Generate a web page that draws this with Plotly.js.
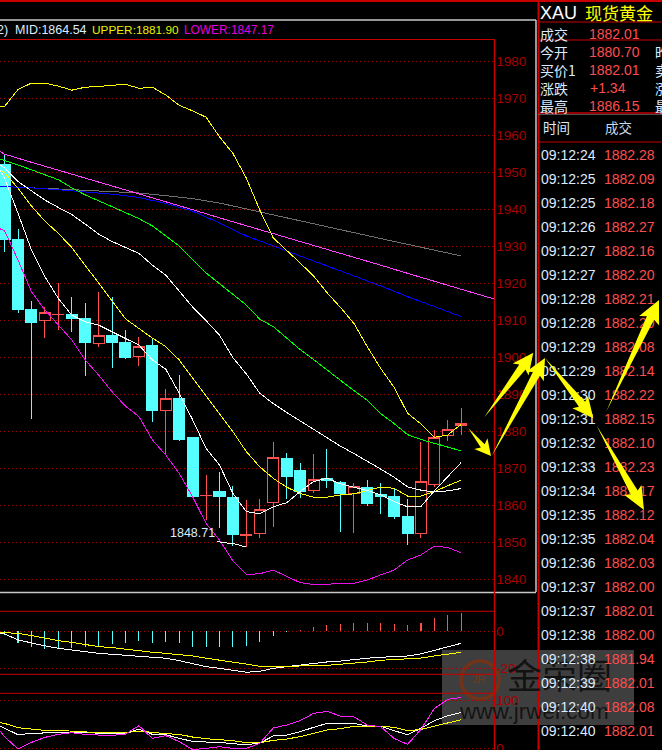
<!DOCTYPE html>
<html><head><meta charset="utf-8">
<script src="https://cdn.plot.ly/plotly-3.0.1.min.js"></script>
<style>html,body{margin:0;padding:0;background:#000;overflow:hidden}
#chart .scatterlayer path.js-line,#chart .boxlayer path,#chart .barlayer path{shape-rendering:crispEdges}</style>
</head><body><div id="chart" style="width:662px;height:750px"></div>
<script>
const opens =[1952.2,1931.9,1912.8,1909.9,1911.6,1911.7,1910.6,1903.7,1906.0,1904.1,1900.2,1903.1,1885.6,1889.0,1878.2,1862.6,1863.6,1862.0,1851.8,1852.3,1860.7,1872.7,1869.3,1864.0,1867.2,1866.3,1863.3,1864.9,1862.8,1862.5,1857.1,1852.3,1865.6,1878.9,1881.5];
const highs =[1954.7,1934.6,1915.2,1913.5,1920.2,1916.2,1914.6,1917.6,1916.2,1907.3,1905.5,1905.0,1891.4,1895.1,1878.2,1868.1,1868.9,1865.1,1861.4,1861.6,1877.0,1874.1,1871.4,1873.9,1875.2,1866.6,1865.9,1866.8,1866.0,1864.3,1861.7,1877.0,1880.4,1883.1,1886.3];
const lows  =[1928.5,1912.0,1883.4,1905.3,1907.4,1906.8,1895.0,1902.9,1897.2,1899.6,1897.7,1882.6,1873.6,1877.5,1862.3,1856.1,1854.0,1849.1,1848.71,1851.3,1854.2,1861.7,1862.1,1863.4,1864.7,1852.8,1852.6,1859.8,1857.7,1856.3,1849.4,1851.3,1865.0,1877.4,1879.0];
const closes=[1931.9,1912.8,1909.5,1912.2,1911.7,1910.6,1903.9,1905.9,1903.9,1899.9,1903.0,1885.5,1888.9,1877.9,1862.5,1862.7,1862.3,1852.0,1852.2,1858.9,1873.0,1867.7,1863.8,1867.0,1866.8,1863.3,1865.0,1860.6,1862.5,1857.1,1852.3,1866.5,1878.4,1880.5,1882.2];

// index -1 .. 34
const lineIdx=[-1,0,1,2,3,4,5,6,7,8,9,10,11,12,13,14,15,16,17,18,19,20,21,22,23,24,25,26,27,28,29,30,31,32,33,34];
const bollUpper=[1967.5,1967.8,1972.4,1974.1,1974.1,1973.3,1972.2,1973.0,1973.2,1973.4,1973.8,1972.7,1973.0,1970.9,1968.1,1966.6,1964.9,1959.6,1955.1,1948.4,1939.8,1932.3,1929.0,1925.5,1922.0,1917.5,1913.5,1909.2,1902.9,1897.0,1891.9,1884.9,1882.0,1878.4,1879.0,1881.90];
const bollMid=[1953.3,1951.2,1947.5,1944.9,1942.5,1940.5,1938.6,1936.0,1933.3,1931.3,1929.7,1928.1,1924.9,1922.2,1917.9,1913.6,1909.9,1906.0,1899.9,1895.5,1890.3,1887.5,1885.1,1882.8,1880.6,1878.1,1876.0,1874.0,1872.0,1869.8,1867.6,1865.0,1864.1,1863.6,1863.9,1864.54];
const bollLower=[1935.8,1934.2,1926.3,1917.7,1912.8,1908.7,1904.7,1899.3,1895.2,1890.7,1886.8,1884.0,1877.7,1873.6,1868.6,1862.3,1855.1,1850.6,1845.0,1841.3,1841.5,1842.5,1840.7,1839.1,1838.6,1838.6,1838.8,1838.9,1839.8,1841.2,1842.5,1845.2,1846.6,1849.0,1848.6,1847.17];
const maFast=[1955.0,1948.4,1938.9,1929.0,1921.8,1915.9,1911.4,1909.6,1908.7,1906.9,1905.1,1903.3,1899.3,1896.8,1890.3,1883.1,1875.4,1870.9,1863.2,1858.3,1857.7,1859.6,1860.7,1863.7,1866.4,1867.3,1865.8,1865.0,1864.0,1862.8,1861.0,1859.6,1859.7,1863.9,1867.7,1871.6];
const maMid=[1952.0,1949.9,1945.7,1940.9,1936.8,1933.5,1929.7,1924.9,1920.1,1915.5,1910.4,1907.8,1905.2,1902.9,1899.3,1894.4,1889.5,1884.7,1879.9,1874.5,1870.4,1867.3,1864.9,1863.2,1862.2,1862.2,1862.8,1863.1,1863.9,1864.9,1864.6,1862.5,1862.5,1863.7,1865.3,1866.8];
const maGreen=[1954.1,1953.2,1952.0,1950.7,1949.3,1948.0,1945.8,1943.9,1942.3,1940.8,1939.1,1937.5,1935.5,1932.8,1930.1,1926.4,1922.8,1919.9,1917.0,1914.1,1910.3,1908.3,1905.2,1902.1,1899.4,1896.6,1893.7,1891.0,1888.4,1884.8,1882.1,1879.1,1877.8,1876.7,1875.6,1874.7];

// long averages, read every second bar
const longIdx=[-1,0,2,4,6,8,10,12,14,16,18,20,22,24,26,28,30,32,34];
const maBlue=[1946.3,1946.2,1945.8,1945.3,1944.7,1944.1,1943.2,1941.6,1939.5,1936.3,1932.8,1930.1,1927.4,1924.7,1922.1,1919.3,1916.4,1913.7,1911.0];
const maGrey=[1946.3,1946.2,1945.8,1945.5,1945.1,1944.8,1944.4,1943.7,1942.9,1941.7,1940.2,1938.5,1936.9,1935.4,1933.7,1932.1,1930.5,1928.9,1927.4];
const pinkIdx=[-1,0,2,4,6,8,10,12,14,16,18,20,22,24,26,28,30,32,34,36.5];
const maPink=[1957.0,1954.9,1952.7,1950.6,1948.5,1946.3,1944.1,1942.0,1939.9,1937.7,1935.6,1933.5,1931.3,1929.2,1927.0,1924.9,1922.7,1920.5,1918.4,1915.7];

const barIdx=[0,1,2,3,4,5,6,7,8,9,10,11,12,13,14,15,16,17,18,19,20,21,22,23,24,25,26,27,28,29,30,31,32,33,34];
const macdHist=[-2.1,-6.1,-8.2,-9.4,-9.6,-8.9,-8.6,-7.7,-6.8,-6.1,-5.2,-6.1,-5.5,-6.1,-8.2,-8.6,-8.2,-8.2,-7.7,-5.7,-2.3,-0.4,0.5,2.3,3.4,3.9,4.5,4.5,4.5,3.9,3.2,4.5,7.1,8.8,9.8];
const macdDif=[-0.5,-1.4,-4.6,-6.4,-7.8,-9.1,-10.0,-11.1,-11.8,-12.3,-12.8,-13.0,-13.9,-14.4,-15.7,-17.5,-18.9,-19.8,-20.9,-21.9,-21.4,-19.8,-18.9,-18.0,-17.1,-16.4,-15.9,-15.0,-14.4,-13.9,-13.4,-13.2,-12.1,-10.3,-8.2,-6.4];
const macdDea=[-0.4,-0.7,-1.1,-2.3,-3.7,-5.0,-5.9,-7.0,-8.2,-8.7,-9.6,-10.3,-11.2,-11.8,-12.3,-13.2,-14.4,-15.3,-16.2,-17.5,-18.7,-19.1,-19.1,-18.5,-18.5,-18.2,-17.6,-17.1,-16.4,-15.5,-15.0,-14.6,-14.3,-13.2,-12.3,-11.2];

const kdjK=[55.8,42.0,28.9,31.7,33.1,33.7,34.4,33.7,31.7,30.3,31.7,40.6,29.6,28.9,21.3,15.2,13.8,13.1,10.3,8.3,11.7,26.2,28.2,35.1,44.1,52.3,52.3,52.3,46.8,46.8,37.2,28.9,42.0,57.9,68.2,75.1];
const kdjD=[57.0,52.3,43.4,39.9,37.9,37.9,35.8,34.4,33.1,33.1,33.1,36.5,33.1,31.0,29.6,24.1,20.7,18.6,16.5,12.4,12.4,17.2,20.0,24.8,31.7,38.6,41.3,46.1,46.8,46.8,44.1,37.2,39.9,46.1,52.3,59.9];
const kdjJ=[59.0,24.8,-0.7,13.1,23.4,29.6,33.1,29.6,28.2,27.5,30.3,47.5,21.3,26.9,14.5,-2.0,0.7,4.1,0.7,0.7,11.0,42.7,48.9,57.9,73.0,77.1,67.5,66.1,48.9,45.5,21.3,9.0,39.9,83.3,101.9,106.1];

const lowNoteIdx=[15.8,17.2,18];
const lowNoteVal=[1850.2,1849.5,1848.71];

const priceTicks=[1840,1850,1860,1870,1880,1890,1900,1910,1920,1930,1940,1950,1960,1970,1980];
const tickTimes=['09:12:24','09:12:25','09:12:25','09:12:26','09:12:27','09:12:27','09:12:28','09:12:28','09:12:29','09:12:29','09:12:30','09:12:31','09:12:32','09:12:33','09:12:34','09:12:35','09:12:35','09:12:36','09:12:37','09:12:37','09:12:38','09:12:38','09:12:39','09:12:40','09:12:40'];
const tickPrices=['1882.28','1882.09','1882.18','1882.27','1882.16','1882.20','1882.21','1882.20','1882.08','1882.14','1882.22','1882.15','1882.10','1882.23','1882.17','1882.12','1882.04','1882.03','1882.00','1882.01','1882.00','1881.94','1882.01','1882.08','1882.01'];

const W=662,H=750;
const px=x=>x/W, py=y=>1-y/H;
const dom=(t,b)=>[py(b),py(t)];
const rowOf=y=>(y-156)/24;
const FONT='"Liberation Sans",Arial,sans-serif', CJK='"Noto Sans CJK SC",sans-serif';
const RED='#c80000', GRID='#a80000', TXT='#dcecff', PR='#ff4d4d', CY='#55ffff';

function ln(name,x,y,color,ax,width){return {type:'scatter',mode:'lines',name,x,y,xaxis:'x',yaxis:ax||'y',line:{color,width:width||1,shape:'linear'},hoverinfo:'skip'};}
function wm(text,x,y,size,color){return {type:'scatter',mode:'text',x:[x],y:[rowOf(y)],text:[text],xaxis:'x2',yaxis:'y4',textposition:'middle right',textfont:{family:size>30?CJK:FONT,size,color},hoverinfo:'skip',cliponaxis:false};}

const traces=[
 {type:'candlestick',x:barIdx,open:opens,high:highs,low:lows,close:closes,xaxis:'x',yaxis:'y',whiskerwidth:0,
  increasing:{line:{color:'#ff5050',width:1},fillcolor:'#000'},decreasing:{line:{color:CY,width:1},fillcolor:CY},hoverinfo:'skip'},
 ln('MA grey',longIdx,maGrey,'#707070'),
 ln('MA blue',longIdx,maBlue,'#0000ff'),
 ln('MA pink',pinkIdx,maPink,'#ff40ff'),
 ln('MA green',lineIdx,maGreen,'#00ff00'),
 ln('MA mid',lineIdx,maMid,'#ffff00'),
 ln('UPPER',lineIdx,bollUpper,'#ffff00'),
 ln('MID',lineIdx,bollMid,'#ffffff'),
 ln('MA fast',lineIdx,maFast,'#ffffff'),
 ln('LOWER',lineIdx,bollLower,'#e810e8'),
 ln('low note',lowNoteIdx,lowNoteVal,'#ffffff'),
 {type:'bar',x:barIdx,y:macdHist,xaxis:'x',yaxis:'y2',width:0.08,marker:{color:macdHist.map(v=>v<0?CY:'#ff5050'),line:{width:0}},hoverinfo:'skip'},
 ln('DIF',lineIdx,macdDif,'#ffffff','y2',1),
 ln('DEA',lineIdx,macdDea,'#ffff00','y2',1),
 ln('K',lineIdx,kdjK,'#ffffff','y3',1),
 ln('D',lineIdx,kdjD,'#ffff00','y3',1),
 ln('J',lineIdx,kdjJ,'#ff20ff','y3',1),
 wm('金荣圈',507,680,35,'rgba(14,14,14,0.92)'),
 wm('www.jrwei.com',460,713,22.5,'rgba(14,14,14,0.9)'),
 wm('JR',472,680,11,'rgba(110,60,25,0.95)'),
 {type:'scatter',mode:'text',x:tickTimes.map(()=>541),y:tickTimes.map((_,i)=>i),text:tickTimes,xaxis:'x2',yaxis:'y4',textposition:'middle right',textfont:{family:FONT,size:14,color:TXT},hoverinfo:'skip',cliponaxis:false},
 {type:'scatter',mode:'text',x:tickPrices.map(()=>604),y:tickPrices.map((_,i)=>i),text:tickPrices,xaxis:'x2',yaxis:'y4',textposition:'middle right',textfont:{family:FONT,size:14,color:PR},hoverinfo:'skip',cliponaxis:false}
];

const yBase={side:'right',anchor:'x',showline:false,zeroline:false,showgrid:true,gridcolor:GRID,gridwidth:1,griddash:'1px,3px',ticks:'',
 tickfont:{family:FONT,size:13.5,color:'#a80000'},ticklabelstandoff:1,ticklabelshift:2.5,ticklabeloverflow:'allow',fixedrange:true};

function hline(y,x0,x1,c,w){return {type:'line',xref:'paper',yref:'paper',x0:px(x0),x1:px(x1),y0:py(y),y1:py(y),line:{color:c||RED,width:w||1},layer:'below'};}
function vline(x,y0,y1,c,w){return {type:'line',xref:'paper',yref:'paper',x0:px(x),x1:px(x),y0:py(y0),y1:py(y1),line:{color:c||RED,width:w||1},layer:'below'};}
function arrow(x0,y0,x1,y1,hl,hw,nw){
 const d=Math.hypot(x1-x0,y1-y0),ux=(x1-x0)/d,uy=(y1-y0)/d,nx=-uy,ny=ux;
 const p=(a,b)=>[x0+ux*a+nx*b,y0+uy*a+ny*b];
 const pts=[p(0,0),p(d-hl,nw/2),p(d-hl-3,hw/2),p(d,0),p(d-hl-3,-hw/2),p(d-hl,-nw/2)];
 return {type:'path',xref:'paper',yref:'paper',fillcolor:'#ffff00',line:{width:0},layer:'above',
  path:pts.map((q,i)=>(i?'L':'M')+px(q[0])+' '+py(q[1])).join(' ')+' Z'};
}
const shapes=[
 {type:'rect',xref:'paper',yref:'paper',x0:px(442),x1:px(634),y0:py(725),y1:py(650),fillcolor:'#3e3e3e',line:{width:0},layer:'below'},
 {type:'circle',xref:'paper',yref:'paper',x0:px(461),x1:px(499),y0:py(699),y1:py(661),fillcolor:'rgba(0,0,0,0)',line:{color:'rgba(120,50,20,0.9)',width:3.5},layer:'below'},
 hline(1,0,662,RED,2), hline(20,0,536,'#c8c8c8',1.5), vline(536,20,592,'#c8c8c8',1.5), hline(592.5,0,536,'#c8c8c8',1.5),
 hline(39.5,0,494.5), vline(494.5,39.5,750,RED,1.5), vline(538.5,0,750,RED,2),
 hline(22,538,662), hline(40,538,662), hline(113,538,662,RED,1.5), hline(114.5,538,662,'#888',0.6), hline(142,538,662),
 hline(611.3,0,494.5), hline(674.3,0,494.5), hline(693.3,0,494.5),
 arrow(468.3,428.3,491,456,13,17,5),
 arrow(484.3,417.3,533.3,352.7,18,20,8),
 arrow(491.7,456,545,358,18,20,8),
 arrow(545,358,593.3,418.3,18,20,8),
 arrow(596.7,425.7,644,510,20,20,8),
 arrow(606.5,411,659,300,20,22,8)
];
function lab(text,x,y,color,size,font){return {text,x:px(x),y:py(y),xref:'paper',yref:'paper',xanchor:'left',yanchor:'middle',showarrow:false,borderpad:0,font:{family:font||FONT,size,color}};}
const annotations=[
 lab('2)',-4,30,TXT,12.5), lab('MID:1864.54',14,30,TXT,12.5), lab('UPPER:1881.90',91,30,'#e8f000',11.8), lab('LOWER:1847.17',183,30,'#e000e0',11.9),
 {text:'1848.71',x:14,y:1852.6,xref:'x',yref:'y',showarrow:false,font:{family:FONT,size:12.5,color:TXT}},
 lab('XAU',539,13,'#ffffff',18), lab('现货黄金',584,13,'#ffff00',17,CJK),
 lab('成交',539,34,TXT,14,CJK), lab('1882.01',588,34,PR,14),
 lab('今开',539,52,TXT,14,CJK), lab('1880.70',588,52,PR,14), lab('昨收',654,52,TXT,14,CJK),
 lab('买价1',539,70,TXT,14,CJK), lab('1882.01',588,70,PR,14), lab('卖价1',654,70,TXT,14,CJK),
 lab('涨跌',539,88,TXT,14,CJK), lab('+1.34',589,88,PR,14), lab('涨幅',654,88,TXT,14,CJK),
 lab('最高',539,106,TXT,14,CJK), lab('1886.15',588,106,PR,14), lab('最低',654,106,TXT,14,CJK),
 lab('时间',542,127,TXT,13.5,CJK), lab('成交',604,127,'#c8d8e8',13.5,CJK)
];

const layout={width:W,height:H,margin:{l:0,r:0,t:0,b:0,pad:0},paper_bgcolor:'#000',plot_bgcolor:'rgba(0,0,0,0)',showlegend:false,
 boxmode:'overlay',boxgap:0.18,boxgroupgap:0,barmode:'overlay',
 xaxis:{domain:[0,px(494.3)],range:[-0.3425,36.46],visible:false,rangeslider:{visible:false},fixedrange:true,anchor:'y'},
 yaxis:Object.assign({},yBase,{domain:dom(40,591),range:[1836.84,1985.76],tickvals:priceTicks}),
 yaxis2:Object.assign({},yBase,{domain:dom(611.3,674.3),range:[-23,10.7],tickvals:[0,-20],ticktext:['0','-20']}),
 yaxis3:Object.assign({},yBase,{domain:dom(693.3,750),range:[-2.7,114.5],tickvals:[0,100],ticktext:['0','100']}),
 xaxis2:{domain:[0,1],range:[0,662],visible:false,anchor:'y4',fixedrange:true},
 yaxis4:{domain:[0,1],range:[rowOf(750),rowOf(0)],visible:false,anchor:'x2',fixedrange:true},
 shapes,annotations,hovermode:false,dragmode:false
};
Plotly.newPlot('chart',traces,layout,{displayModeBar:false,staticPlot:true,responsive:false});
</script></body></html>
